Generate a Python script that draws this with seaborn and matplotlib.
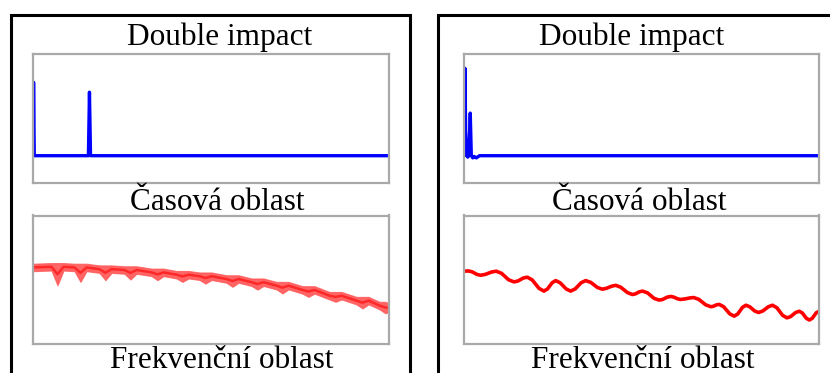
import matplotlib
matplotlib.use("Agg")
import matplotlib.pyplot as plt
from matplotlib.patches import Rectangle
import seaborn as sns

# ---- data -------------------------------------------------------------
# Time-domain records (normalised amplitude vs. time in s)
time_a = [0.0, 0.002, 0.003, 0.005, 0.157, 0.160, 0.163, 1.0]
amp_a = [0.0, 0.0, 1.0, 0.0, 0.0, 0.865, 0.0, 0.0]

time_b = [0.000, 0.003, 0.004, 0.006, 0.009, 0.012, 0.015, 0.019, 0.022,
          0.026, 0.030, 0.036, 0.045, 1.0]
amp_b = [0.0, 0.0, 1.19, 0.35, 0.03, -0.02, 0.0, 0.58, 0.0, -0.03, -0.01,
         -0.03, 0.0, 0.0]

# Spectrum of the first record: envelope of the dense spectral band (dB)
freq_band = [0, 266, 351, 436, 589, 674, 759, 940, 1025, 1110, 1291, 1376,
             1461, 1671, 1756, 1841, 2022, 2107, 2192, 2345, 2430, 2515,
             2724, 2809, 2894, 3075, 3160, 3245, 3426, 3511, 3596, 3791,
             3876, 3961, 4171, 4256, 4341, 4550, 4635, 4720, 4873, 4958,
             5000]
band_upper = [-22.5, -22.2, -22.2, -22.2, -22.5, -22.5, -22.5, -23.3, -23.3,
              -23.3, -23.7, -23.7, -23.7, -24.8, -24.8, -24.8, -25.9, -25.9,
              -25.9, -26.6, -26.6, -26.6, -27.9, -27.9, -27.9, -29.4, -29.4,
              -29.4, -31.0, -31.0, -31.0, -33.0, -33.0, -33.0, -35.7, -35.7,
              -35.7, -38.0, -38.0, -38.0, -40.3, -40.3, -41.0]
band_lower = [-26.0, -25.7, -32.6, -25.7, -26.0, -31.0, -26.0, -26.8, -30.2,
              -26.8, -27.2, -29.9, -27.2, -28.3, -30.2, -28.3, -29.4, -31.0,
              -29.4, -30.1, -31.8, -30.1, -31.4, -33.3, -31.4, -32.9, -34.6,
              -32.9, -34.5, -36.4, -34.5, -36.5, -38.0, -36.5, -39.2, -40.3,
              -39.2, -41.5, -43.4, -41.5, -43.8, -45.7, -45.0]

# Spectrum of the second record (dB)
freq_b = [0, 71, 122, 189, 240, 306, 394, 460, 535, 634, 709, 765, 841, 897,
          967, 1061, 1131, 1181, 1247, 1296, 1359, 1444, 1507, 1570, 1655,
          1718, 1789, 1883, 1953, 2009, 2085, 2141, 2212, 2306, 2376, 2418,
          2475, 2517, 2587, 2681, 2751, 2801, 2867, 2916, 2957, 3011, 3051,
          3107, 3183, 3239, 3311, 3406, 3478, 3513, 3561, 3596, 3659, 3744,
          3807, 3857, 3923, 3972, 4025, 4096, 4150, 4209, 4288, 4347, 4408,
          4488, 4549, 4601, 4671, 4723, 4765, 4822, 4864, 4905, 4959, 5000]
level_b = [-26.0, -25.9, -26.3, -27.5, -27.9, -27.5, -26.4, -26.0, -27.0,
           -30.0, -31.0, -30.6, -29.2, -28.8, -30.1, -34.0, -35.3, -34.3,
           -31.4, -30.4, -31.4, -34.3, -35.3, -34.3, -31.4, -30.4, -31.2,
           -33.6, -34.4, -34.0, -33.0, -32.6, -33.5, -36.0, -36.9, -36.6,
           -35.6, -35.3, -36.1, -38.7, -39.5, -39.2, -38.1, -37.8, -38.1,
           -38.9, -39.2, -39.0, -38.5, -38.3, -39.2, -41.7, -42.6, -42.4,
           -41.7, -41.5, -42.6, -45.9, -47.0, -46.0, -42.9, -41.9, -42.6,
           -44.6, -45.3, -44.6, -42.6, -41.9, -43.1, -46.6, -47.8, -47.2,
           -45.3, -44.7, -45.5, -48.0, -48.8, -48.0, -45.5, -44.7]

title_top = "Double impact"
title_mid = "Časová oblast"
title_bot = "Frekvenční oblast"

# ---- styling ----------------------------------------------------------
sns.set_style("white")
plt.rcParams["font.family"] = ["Liberation Serif", "DejaVu Serif"]

W, H = 830, 373
fig = plt.figure(figsize=(W / 100, H / 100), dpi=100)


def px_box(left, top, right, bottom):
    return [left / W, 1 - bottom / H, (right - left) / W, (bottom - top) / H]


def px_text(x, y, s):
    fig.text(x / W, 1 - y / H, s, ha="center", va="baseline",
             fontsize=22.5, color="black")


def frame_axes(ax):
    ax.set_xticks([])
    ax.set_yticks([])
    ax.set_xlabel("")
    ax.set_ylabel("")
    for sp in ax.spines.values():
        sp.set_visible(True)
        sp.set_color("#a9a9a9")
        sp.set_linewidth(1.6)


# outer panel frames
for x0, x1 in [(10.5, 410), (437.5, 845)]:
    fig.add_artist(Rectangle((x0 / W, -0.2), (x1 - x0) / W, 1.2 - 15 / H,
                             transform=fig.transFigure, fill=False,
                             edgecolor="black", linewidth=2.2))

t_ylim = (-0.365, 1.392)
f_ylim = (-60, 0)

# left panel
ax1 = fig.add_axes(px_box(32.5, 53.5, 388.5, 182.5))
sns.lineplot(x=time_a, y=amp_a, ax=ax1, color="#0000ff", linewidth=2.4,
             estimator=None, sort=False)
ax1.set_xlim(0, 1)
ax1.set_ylim(*t_ylim)
frame_axes(ax1)

ax2 = fig.add_axes(px_box(32.5, 215.5, 388.5, 344))
ax2.fill_between(freq_band, band_upper, band_lower, color="#ff2a2a",
                 alpha=0.72, linewidth=0.8, edgecolor="#ff5050")
band_mid = [(u + l) / 2 for u, l in zip(band_upper, band_lower)]
sns.lineplot(x=freq_band, y=band_mid, ax=ax2, color="#ff0000", alpha=0.6,
             linewidth=1.8, estimator=None, sort=False)
ax2.set_xlim(0, 5000)
ax2.set_ylim(*f_ylim)
frame_axes(ax2)

# right panel
ax3 = fig.add_axes(px_box(463.5, 53.5, 819, 182.5))
sns.lineplot(x=time_b, y=amp_b, ax=ax3, color="#0000ff", linewidth=2.4,
             estimator=None, sort=False)
ax3.set_xlim(0, 1)
ax3.set_ylim(*t_ylim)
frame_axes(ax3)

ax4 = fig.add_axes(px_box(463.5, 215.5, 819, 344))
sns.lineplot(x=freq_b, y=level_b, ax=ax4, color="#ff0000", linewidth=2.6,
             estimator=None, sort=False)
ax4.set_xlim(0, 5000)
ax4.set_ylim(*f_ylim)
frame_axes(ax4)

# captions
px_text(219.5, 44.5, title_top)
px_text(632, 44.5, title_top)
px_text(217, 210, title_mid)
px_text(639.5, 210, title_mid)
px_text(221.5, 368, title_bot)
px_text(643, 368, title_bot)

fig.savefig("out.png", dpi=100)
